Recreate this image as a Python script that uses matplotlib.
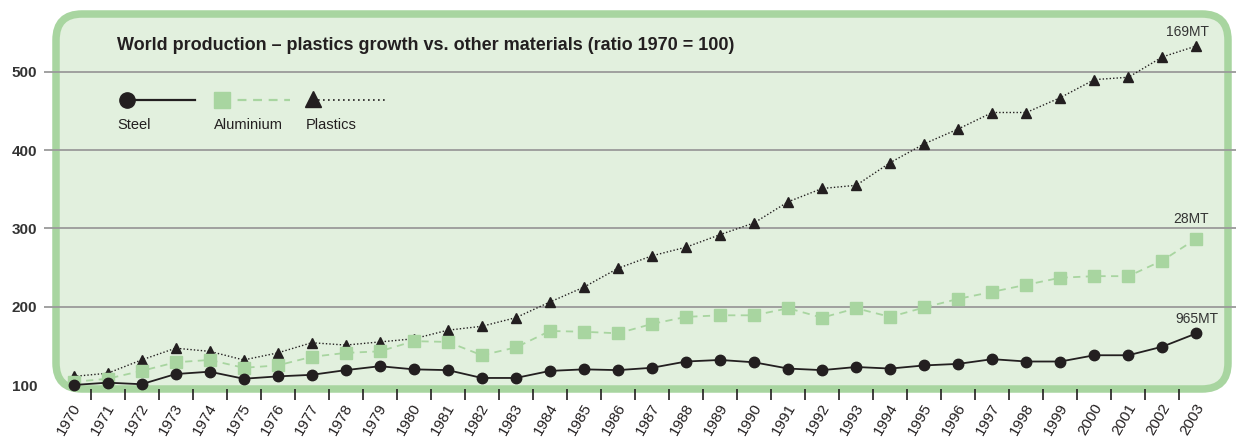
import matplotlib.pyplot as plt
from matplotlib.patches import FancyBboxPatch
from matplotlib.lines import Line2D
from matplotlib.transforms import ScaledTranslation
import numpy as np

plt.rcParams['font.family'] = ['Liberation Sans Narrow', 'Liberation Sans', 'DejaVu Sans']

# data (ratio 1970 = 100)
years = list(range(1970, 2004))
steel = [100, 103, 101, 114, 117, 108, 111, 113, 119, 124,
         120, 119, 109, 109, 118, 120, 119, 122, 130, 132,
         129, 121, 119, 123, 121, 125, 127, 133, 130, 130,
         138, 138, 149, 166]
aluminium = [104, 108, 118, 129, 132, 122, 125, 136, 141, 143,
             156, 155, 138, 148, 169, 168, 166, 178, 187, 189,
             189, 198, 186, 198, 187, 199, 210, 219, 228, 237,
             239, 239, 259, 287]
plastics = [111, 115, 132, 147, 143, 132, 141, 154, 151, 155,
            159, 170, 175, 186, 206, 225, 249, 265, 276, 292,
            307, 334, 351, 355, 384, 408, 427, 448, 448, 467,
            490, 493, 519, 533]
end_labels = ['965MT', '28MT', '169MT']
y_ticks = [100, 200, 300, 400, 500]
title = 'World production \u2013 plastics growth vs. other materials (ratio 1970 = 100)'

dark = '#231f20'
green = '#a8d5a0'
fill = '#e2f0de'

W, H = 1236, 442
fig = plt.figure(figsize=(W / 100, H / 100), dpi=100)

# background rounded box (pixel coordinates)
bg = fig.add_axes([0, 0, 1, 1], zorder=0)
bg.set_xlim(0, W)
bg.set_ylim(H, 0)
bg.axis('off')
box = FancyBboxPatch((56 + 26, 14 + 26), 1172 - 52, 375 - 52,
                     boxstyle='round,pad=26', fc=fill, ec=green, lw=5.4)
bg.add_patch(box)

# main axes
ax = fig.add_axes([44 / W, (H - 389) / H, (W - 44) / W, 379 / H], zorder=1)
ax.patch.set_alpha(0)
ax.set_xlim(1969.133, 2004.161)
ax.set_ylim(94.9, 578.9)
for s in ax.spines.values():
    s.set_visible(False)

ax.set_yticks(y_ticks)
ax.yaxis.grid(True, color='#9a9a9a', lw=1.3)
ax.get_ygridlines()[0].set_visible(False)
ax.set_axisbelow(True)
ax.tick_params(axis='y', length=0, pad=5, labelsize=11, labelcolor='#333333')
for t in ax.get_yticklabels():
    t.set_fontweight('bold')

ax.set_xticks(years)
ax.set_xticklabels([str(y) for y in years])
ax.tick_params(axis='x', which='major', length=0, pad=11, labelsize=11, labelcolor=dark)
ax.set_xticks(np.array(years[:-1]) + 0.5, minor=True)
ax.tick_params(axis='x', which='minor', length=8, width=1.2, color=dark, direction='out')
shift = ScaledTranslation(4 / 100, 0, fig.dpi_scale_trans)
for t in ax.get_xticklabels():
    t.set_rotation(60)
    t.set_ha('right')
    t.set_va('center')
    t.set_rotation_mode('anchor')
    t.set_transform(t.get_transform() + shift)

ax.plot(years, plastics, color=dark, lw=1.0, ls=(0, (1, 1.5)), marker='^',
        ms=7.5, mfc=dark, mec=dark, clip_on=False, zorder=3)
ax.plot(years, aluminium, color=green, lw=1.3, ls=(0, (4, 3)), marker='s',
        ms=8, mfc=green, mec=green, clip_on=False, zorder=4)
ax.plot(years, steel, color=dark, lw=1.3, ls='-', marker='o',
        ms=7.5, mfc=dark, mec=dark, clip_on=False, zorder=5)

offsets = [(16, 5), (9, 9), (9, 5)]
for series, lab, off in zip([steel, aluminium, plastics], end_labels, offsets):
    ax.annotate(lab, (years[-1], series[-1]), xytext=off, textcoords='offset points',
                ha='right', va='bottom', fontsize=10, color='#333333')

# title and legend (pixel coordinates on background axes)
bg.text(117, 46, title, fontsize=13, fontweight='bold', color=dark, va='center', ha='left')
bg.add_line(Line2D([127, 195], [100, 100], color=dark, lw=1.6))
bg.plot([127], [100], marker='o', ms=11, color=dark)
bg.add_line(Line2D([222, 290], [100, 100], color=green, lw=1.6, ls=(0, (4, 3))))
bg.plot([222], [100], marker='s', ms=12, color=green)
bg.add_line(Line2D([313, 385], [100, 100], color=dark, lw=1.2, ls=(0, (1, 2))))
bg.plot([313], [99], marker='^', ms=11, color=dark)
for x, lab in zip([117, 214, 306], ['Steel', 'Aluminium', 'Plastics']):
    bg.text(x, 125, lab, fontsize=10.5, color=dark, va='center', ha='left')

fig.savefig('out.png', dpi=100)
